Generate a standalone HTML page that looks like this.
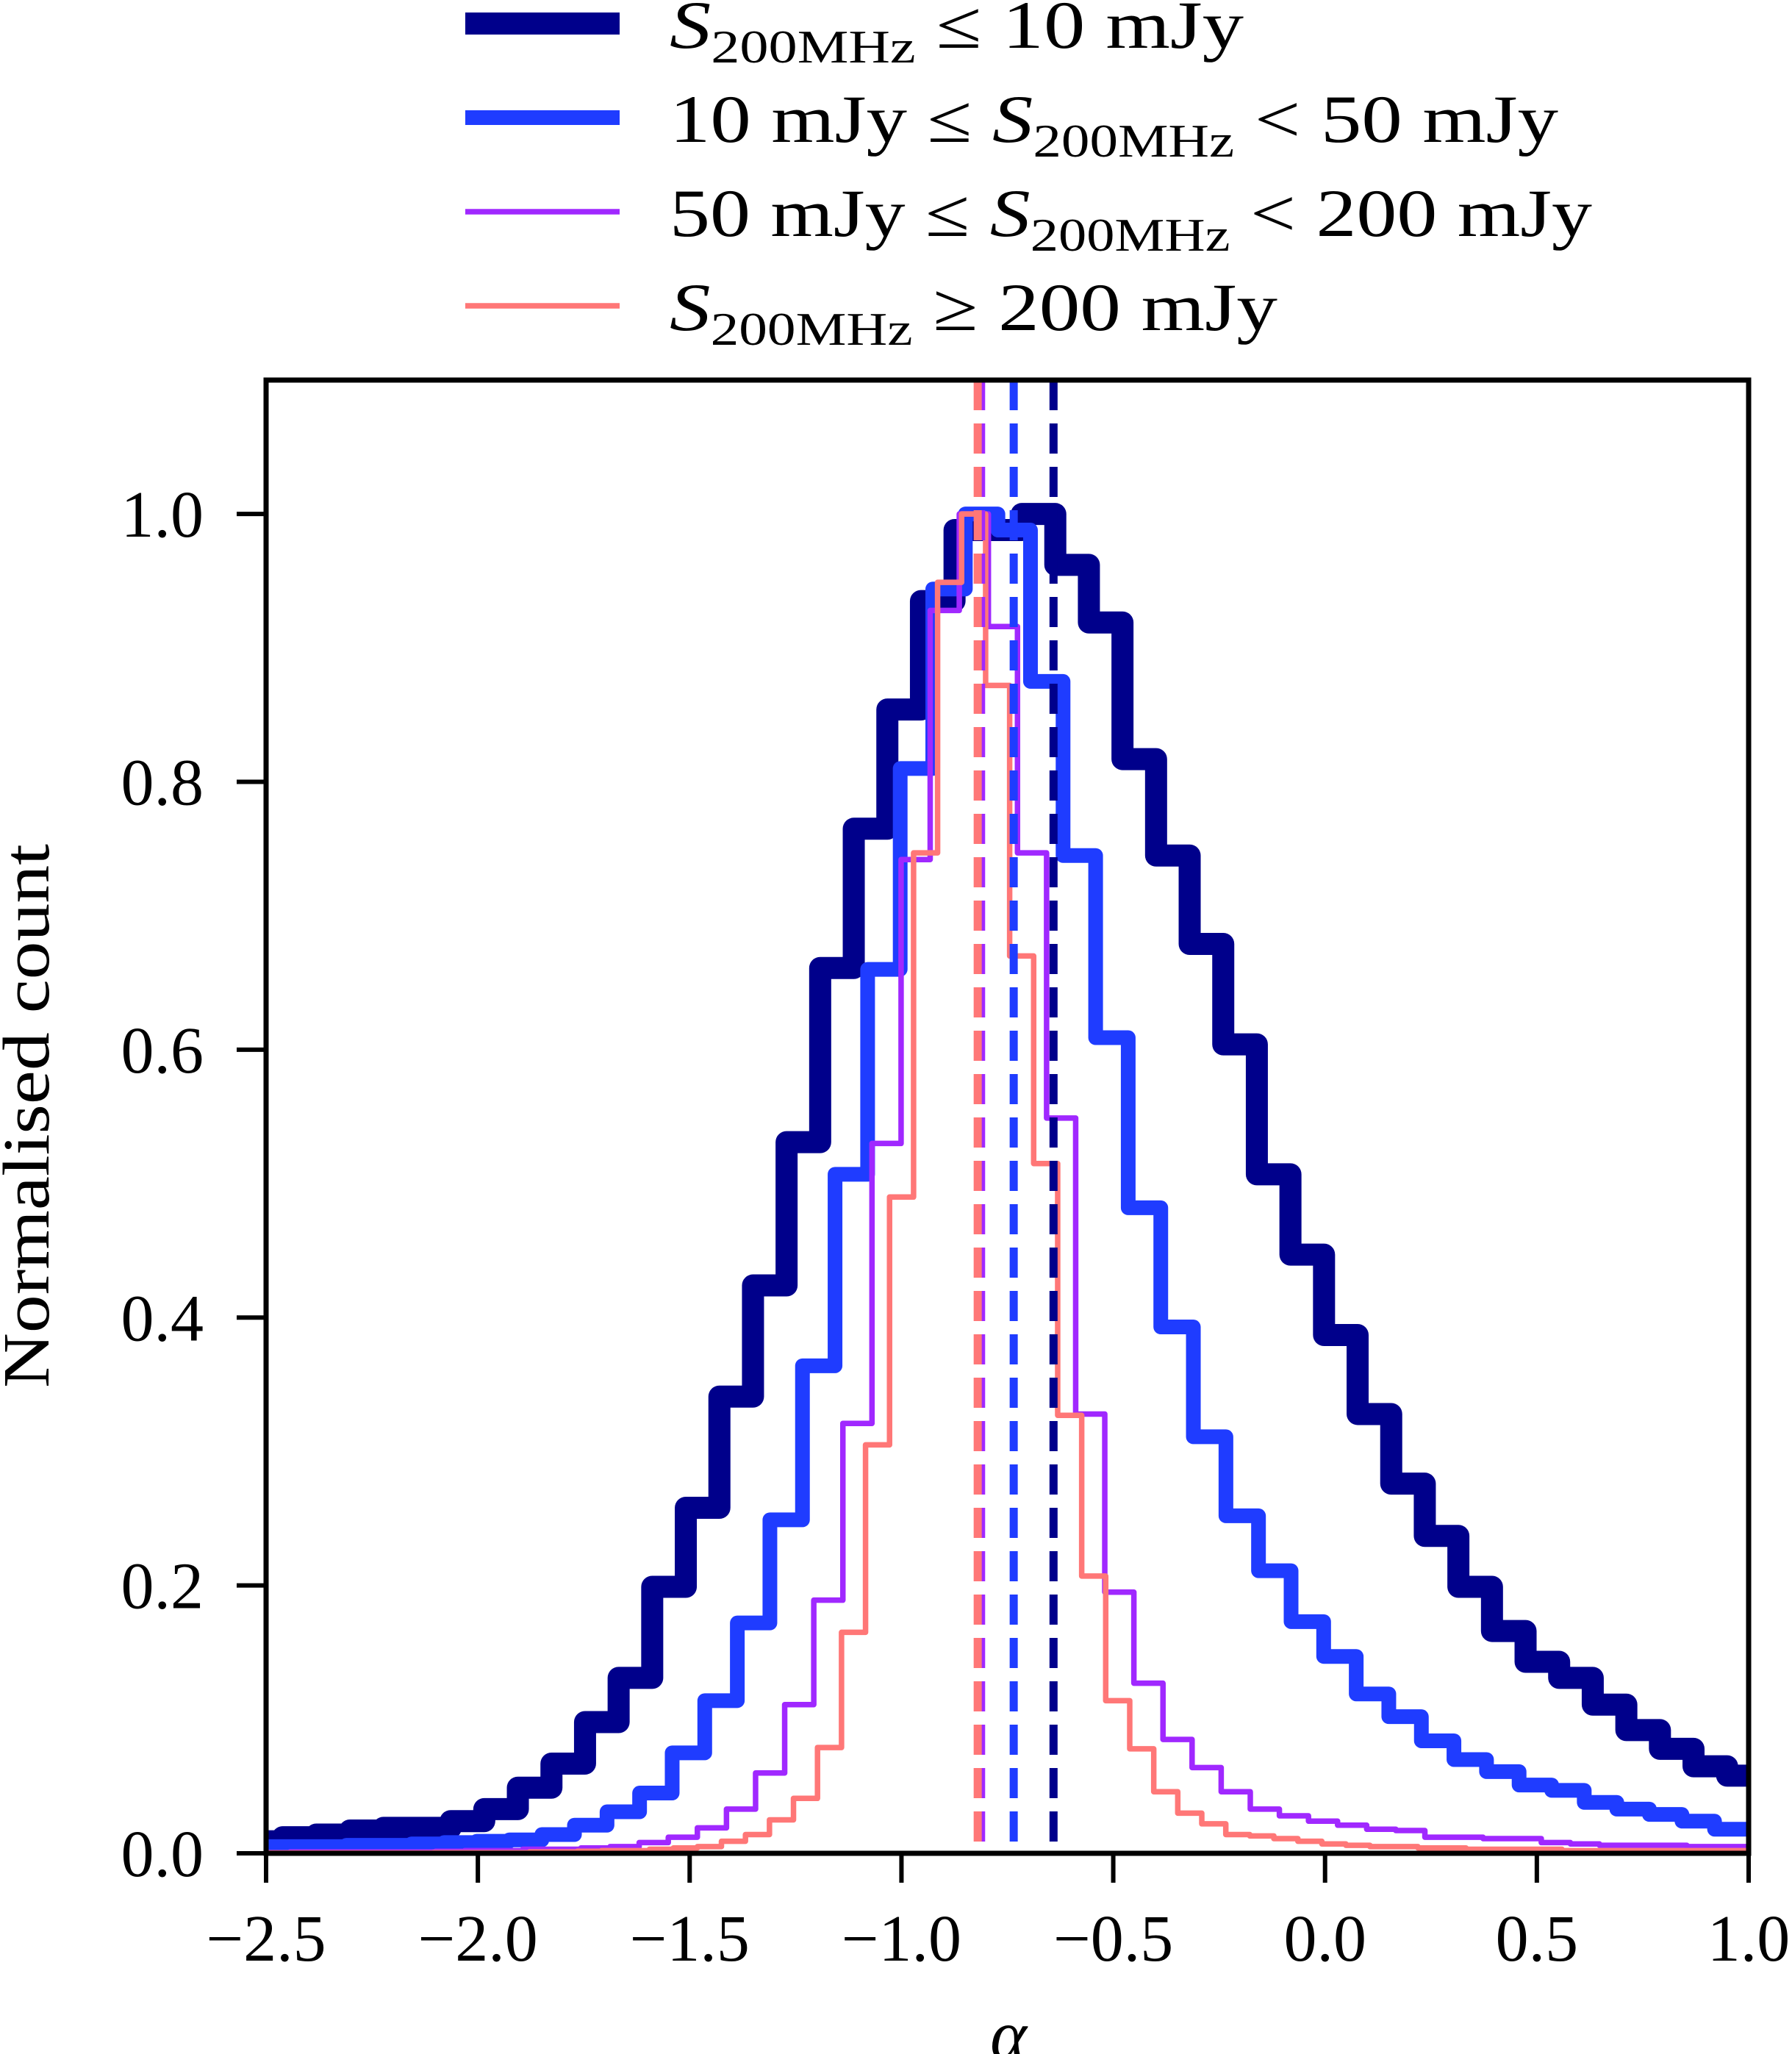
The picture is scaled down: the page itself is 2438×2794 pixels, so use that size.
<!DOCTYPE html>
<html><head><meta charset="utf-8"><style>
html,body{margin:0;padding:0;background:#fff;}
svg{display:block;}
text{font-family:"Liberation Serif",serif;fill:#000;}
</style></head><body>
<svg id="chart" width="2438" height="2794" viewBox="0 0 2438 2794" xmlns="http://www.w3.org/2000/svg">
<defs><clipPath id="plotclip"><rect x="362" y="517" width="2017" height="2004"/></clipPath></defs>
<rect x="0" y="0" width="2438" height="2794" fill="#fff"/>
<g id="marks" clip-path="url(#plotclip)"></g>
<g id="axes"></g>
<g id="legend"></g>
</svg>
<script>
// ---- data ----
const seriesNames = ["s-le-10", "s-10-50", "s-50-200", "s-ge-200"];
const seriesColors = ["#00008b", "#1f3cff", "#a028ff", "#ff7777"];
const seriesWidths = [30, 20, 7.5, 7.5];
const binStarts = [-2.540, -2.541, -2.581, -2.559];
const binWidths = [0.0793, 0.0769, 0.0687, 0.0567];
const navyValues = [0.009,0.012,0.014,0.017,0.019,0.019,0.024,0.033,0.049,0.067,0.098,0.131,0.199,0.258,0.341,0.424,0.531,
  0.661,0.765,0.854,0.935,0.988,0.988,1.0,0.962,0.919,0.817,0.745,0.679,0.604,0.507,0.447,0.387,0.328,0.276,0.237,0.199,0.166,0.143,0.131,0.111,0.092,0.078,0.065,0.058];
const blueValues = [0.005,0.005,0.005,0.006,0.006,0.007,0.008,0.009,
  0.010,0.014,0.021,0.031,0.045,0.075,0.114,0.172,0.249,0.364,0.507,0.66,0.81,0.944,1.0,0.988,0.875,
  0.745,0.609,0.482,0.393,0.311,0.252,0.211,0.173,0.147,0.119,0.102,0.084,0.070,0.061,0.051,0.047,0.038,0.033,0.029,0.024,0.018,0.018];
const purpleValues = [0.0005,0.0005,0.001,0.001,0.001,0.001,0.001,0.0015,0.002,0.002,0.003,0.003,0.004,0.005,
  0.008,0.012,0.019,0.033,0.060,0.111,0.189,0.321,0.53,0.742,0.928,1.0,0.916,0.747,
  0.549,0.328,0.195,0.127,0.085,0.064,0.046,0.033,0.028,0.024,0.021,0.018,0.017,0.012,0.012,0.011,0.011,0.008,0.007,0.006,0.006,0.006,0.005,0.005,0.005];
const pinkValues = [0.0003,0.0003,0.0003,0.0003,0.0003,0.0003,0.0003,0.0003,0.0005,0.0005,0.0005,0.0005,0.001,0.001,0.0015,0.002,0.002,0.003,0.004,
  0.005,0.009,0.014,0.025,0.041,0.079,0.165,0.305,0.49,0.747,0.949,1.0,0.872,0.67,
  0.515,0.327,0.207,0.114,0.078,0.046,0.030,0.022,0.014,0.013,0.011,0.009,0.007,0.006,0.005,0.005,0.004,0.004,0.003,0.003,0.003,0.003,0.002,0.002,0.002,0.002,0.002,0.002,0.002,0.002];
const medians = [-0.641, -0.735, -0.812, -0.820];
const xTicks = [-2.5, -2.0, -1.5, -1.0, -0.5, 0.0, 0.5, 1.0];
const xTickLabels = ["\u22122.5","\u22122.0","\u22121.5","\u22121.0","\u22120.5","0.0","0.5","1.0"];
const yTicks = [0, 0.2, 0.4, 0.6, 0.8, 1.0];
const yTickLabels = ["0.0","0.2","0.4","0.6","0.8","1.0"];

// ---- axes functions ----
const X0 = 362, X1 = 2379, Y0 = 2521, Y1 = 517;
const xMin = -2.5, xMax = 1.0, yMin = 0, yMax = 1.1;
function xs(a){ return X0 + (a - xMin) / (xMax - xMin) * (X1 - X0); }
function ys(v){ return Y0 - (v - yMin) / (yMax - yMin) * (Y0 - Y1); }

const NS = "http://www.w3.org/2000/svg";
function mk(tag, attrs){ const e = document.createElementNS(NS, tag); for (const k in attrs) e.setAttribute(k, attrs[k]); return e; }
const marks = document.getElementById("marks");
const axes = document.getElementById("axes");
const legend = document.getElementById("legend");
const allValues = [navyValues, blueValues, purpleValues, pinkValues];

// histograms
allValues.forEach((vals, s) => {
  let d = "M" + xs(binStarts[s]) + "," + ys(0);
  vals.forEach((v, i) => {
    d += " V" + ys(v) + " H" + xs(binStarts[s] + (i + 1) * binWidths[s]);
  });
  d += " V" + ys(0);
  const p = mk("path", {d: d, fill: "none", stroke: seriesColors[s], "stroke-width": seriesWidths[s], "stroke-linejoin": "round"});
  
  
  marks.appendChild(p);
});
// median dashed lines
medians.forEach((m, s) => {
  const l = mk("line", {x1: xs(m), x2: xs(m), y1: Y1, y2: Y0, stroke: seriesColors[s], "stroke-width": 11, "stroke-dasharray": "41 18"});
  
  
  marks.appendChild(l);
});

// frame
const frame = mk("rect", {x: X0, y: Y1, width: X1 - X0, height: Y0 - Y1, fill: "none", stroke: "#000", "stroke-width": 7});


axes.appendChild(frame);

xTicks.forEach((t, i) => {
  const x = xs(t);
  const tk = mk("line", {x1: x, x2: x, y1: Y0, y2: Y0 + 40, stroke: "#000", "stroke-width": 6});
  
  
  axes.appendChild(tk);
  const tx = mk("text", {x: x, y: 2667, "text-anchor": "middle", "font-size": 90});
  tx.textContent = xTickLabels[i];
  
  
  axes.appendChild(tx);
});
yTicks.forEach((t, i) => {
  const y = ys(t);
  const tk = mk("line", {x1: X0 - 40, x2: X0, y1: y, y2: y, stroke: "#000", "stroke-width": 6});
  
  
  axes.appendChild(tk);
  const tx = mk("text", {x: 277, y: y + 31, "text-anchor": "end", "font-size": 90});
  tx.textContent = yTickLabels[i];
  
  
  axes.appendChild(tx);
});
const yl = mk("text", {x: 0, y: 0, "text-anchor": "middle", "font-size": 90, textLength: 740, lengthAdjust: "spacingAndGlyphs", transform: "translate(66,1518) rotate(-90)"});
yl.textContent = "Normalised count";


axes.appendChild(yl);
const xl = mk("text", {x: 1372, y: 2800, "text-anchor": "middle", "font-size": 95, "font-style": "italic"});
xl.textContent = "\u03b1";


axes.appendChild(xl);

// legend
const legendY = [32, 160, 288, 416];
const legendEnds = [1692, 2120, 2166, 1738];
const legendParts = [
  [["S","i"],["200MHz","sub"],[" \u2264 10 mJy",""]],
  [["10 mJy \u2264 ",""],["S","i"],["200MHz","sub"],[" < 50 mJy",""]],
  [["50 mJy \u2264 ",""],["S","i"],["200MHz","sub"],[" < 200 mJy",""]],
  [["S","i"],["200MHz","sub"],[" \u2265 200 mJy",""]]
];
legendParts.forEach((parts, s) => {
  const g = mk("g", {});
  
  
  const ln = mk("line", {x1: 633, x2: 843, y1: legendY[s], y2: legendY[s], stroke: seriesColors[s], "stroke-width": seriesWidths[s]});
  
  
  g.appendChild(ln);
  const tx = mk("text", {x: 911, y: legendY[s] + 33, "font-size": 92, textLength: legendEnds[s] - 911, lengthAdjust: "spacingAndGlyphs"});
  
  
  let sub = false;
  parts.forEach(p => {
    const ts = mk("tspan", {});
    ts.textContent = p[0];
    if (p[1] === "i") ts.setAttribute("font-style", "italic");
    if (p[1] === "sub") { ts.setAttribute("font-size", 64); ts.setAttribute("dy", 20); sub = true; }
    else if (sub) { ts.setAttribute("dy", -20); sub = false; }
    tx.appendChild(ts);
  });
  g.appendChild(tx);
  legend.appendChild(g);
});
</script>
</body></html>
